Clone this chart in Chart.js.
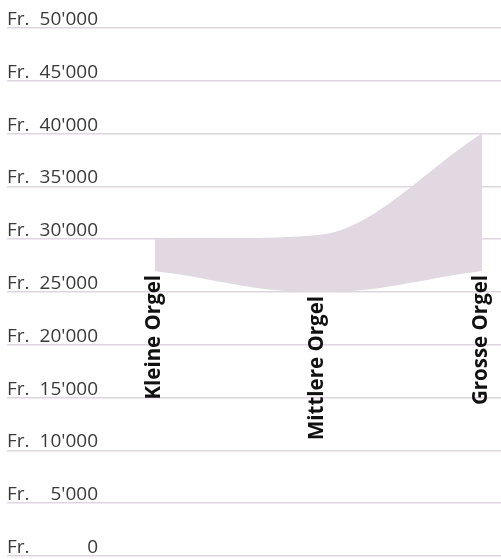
<!DOCTYPE html>
<html>
<head>
<meta charset="utf-8">
<script src="https://cdn.jsdelivr.net/npm/chart.js@4.4.0/dist/chart.umd.min.js"></script>
<style>
  html, body { margin: 0; padding: 0; background: #fff; }
  #wrap { width: 501px; height: 559px; }
</style>
</head>
<body>
<div id="wrap"><canvas id="chart"></canvas></div>
<script>
const categories = ['Kleine Orgel', 'Mittlere Orgel', 'Grosse Orgel'];
const lowValues = [27000, 25000, 27000];
const highValues = [30000, 30400, 40000];
const yTicks = [0, 5000, 10000, 15000, 20000, 25000, 30000, 35000, 40000, 45000, 50000];

const fillColor = 'rgb(225, 216, 226)';
const gridColor = 'rgb(222, 213, 223)';

function fmtFr(v) {
  return String(v).replace(/\B(?=(\d{3})+(?!\d))/g, "'");
}

// y labels sit above each gridline: "Fr." left, amount right-aligned
const yLabels = {
  id: 'yLabels',
  afterDraw(c) {
    const ctx = c.ctx;
    const y = c.scales.y;
    ctx.save();
    ctx.fillStyle = '#3a3a3a';
    ctx.font = '19px "Open Sans", sans-serif';
    ctx.textBaseline = 'alphabetic';
    yTicks.forEach(v => {
      const py = y.getPixelForValue(v) - 3;
      ctx.textAlign = 'left';
      ctx.fillText('Fr.', 7, py);
      ctx.textAlign = 'right';
      ctx.fillText(fmtFr(v), 98, py);
    });
    ctx.restore();
  }
};

// category names rotated, hanging just below the lower edge of the band
const catLabels = {
  id: 'catLabels',
  afterDatasetsDraw(c) {
    const ctx = c.ctx;
    const pts = c.getDatasetMeta(0).data;
    ctx.save();
    ctx.fillStyle = '#111';
    ctx.font = 'bold 20.5px "Open Sans", sans-serif';
    ctx.textAlign = 'right';
    ctx.textBaseline = 'middle';
    pts.forEach((p, i) => {
      ctx.save();
      ctx.translate(p.x - 1, p.y + 4);
      ctx.rotate(-Math.PI / 2);
      ctx.fillText(categories[i], 0, 0);
      ctx.restore();
    });
    ctx.restore();
  }
};

new Chart(document.getElementById('chart'), {
  type: 'line',
  data: {
    datasets: [
      {
        label: 'min',
        data: lowValues.map((v, i) => ({ x: i, y: v })),
        borderWidth: 0,
        pointRadius: 0,
        tension: 0.4,
        fill: false
      },
      {
        label: 'max',
        data: highValues.map((v, i) => ({ x: i, y: v })),
        borderWidth: 0,
        pointRadius: 0,
        cubicInterpolationMode: 'monotone',
        backgroundColor: fillColor,
        fill: '-1'
      }
    ]
  },
  options: {
    responsive: true,
    maintainAspectRatio: false,
    animation: false,
    layout: { padding: { left: 7, right: 0, top: 28, bottom: 3 } },
    plugins: {
      legend: { display: false },
      tooltip: { enabled: false }
    },
    scales: {
      x: {
        type: 'linear',
        display: false,
        min: -0.905,
        max: 2.116
      },
      y: {
        min: 0,
        max: 50000,
        afterBuildTicks: s => { s.ticks = yTicks.map(v => ({ value: v })); },
        ticks: { display: false },
        border: { display: false },
        grid: { color: gridColor, lineWidth: 1.5, drawTicks: false, tickLength: 0 }
      }
    }
  },
  plugins: [yLabels, catLabels]
});
</script>
</body>
</html>
